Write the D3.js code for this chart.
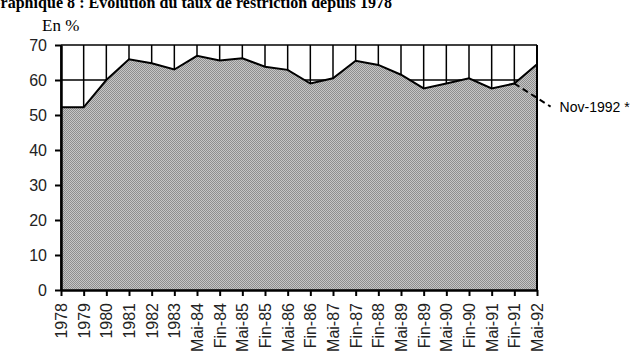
<!DOCTYPE html>
<html>
<head>
<meta charset="utf-8">
<script src="https://cdn.jsdelivr.net/npm/d3@7"></script>
<style>
  body { margin: 0; background: #fff; }
  svg { display: block; }
</style>
</head>
<body>
<svg id="chart" width="639" height="359"></svg>
<script>
const periodes = ["1978", "1979", "1980", "1981", "1982", "1983", "Mai-84", "Fin-84", "Mai-85", "Fin-85",
    "Mai-86", "Fin-86", "Mai-87", "Fin-87", "Fin-88", "Mai-89", "Fin-89", "Mai-90", "Fin-90", "Mai-91",
    "Fin-91", "Mai-92"]
const taux = [52.2, 52.2, 60, 65.9, 64.8, 63, 66.9, 65.6, 66.2, 63.8,
    62.9, 59, 60.5, 65.5, 64.3, 61.5, 57.6, 59, 60.5, 57.6,
    59, 64.5]
const yTicks = [0, 10, 20, 30, 40, 50, 60, 70]
// projection vers Nov-1992 (pointillés)
const projection = [{ pos: 20, val: 59 }, { pos: 21.6, val: 52.4 }]
const projLabel = "Nov-1992 *"

const svg = d3.select("#chart")

const x = d3.scalePoint().domain(periodes).range([61, 537])
const xPos = d3.scaleLinear().domain([0, periodes.length - 1]).range([61, 537])
const y = d3.scaleLinear().domain([0, 70]).range([290, 45])

// motif gris tramé
const defs = svg.append("defs")
const pat = defs.append("pattern")
    .attr("id", "trame")
    .attr("width", 2).attr("height", 2)
    .attr("patternUnits", "userSpaceOnUse")
pat.append("rect").attr("width", 2).attr("height", 2).attr("fill", "#c6c6c6")
pat.append("rect").attr("width", 1).attr("height", 1).attr("fill", "#8e8e8e")
pat.append("rect").attr("x", 1).attr("y", 1).attr("width", 1).attr("height", 1).attr("fill", "#8e8e8e")

// titre (coupé en haut, comme l'original)
svg.append("text")
    .attr("x", -12).attr("y", 8)
    .attr("font-family", "Liberation Serif, Times New Roman, serif")
    .attr("font-weight", "bold")
    .attr("font-size", 16)
    .attr("textLength", 404)
    .text("Graphique 8 : Evolution du taux de restriction  depuis 1978")

svg.append("text")
    .attr("x", 42).attr("y", 31)
    .attr("font-family", "Liberation Serif, Times New Roman, serif")
    .attr("font-size", 17)
    .text("En %")

// grille
svg.append("g")
    .selectAll("line")
    .data(yTicks)
    .join("line")
    .attr("x1", 61).attr("x2", 537)
    .attr("y1", d => y(d)).attr("y2", d => y(d))
    .attr("stroke", "#000").attr("stroke-width", 1.5)

svg.append("g")
    .selectAll("line")
    .data(periodes)
    .join("line")
    .attr("x1", d => x(d)).attr("x2", d => x(d))
    .attr("y1", y(70)).attr("y2", y(0))
    .attr("stroke", "#000").attr("stroke-width", 1.5)

const aire = d3.area()
    .x((d, i) => x(periodes[i]))
    .y0(y(0))
    .y1(d => y(d))

svg.append("path")
    .datum(taux)
    .attr("d", aire)
    .attr("fill", "url(#trame)")

const ligne = d3.line()
    .x((d, i) => x(periodes[i]))
    .y(d => y(d))

svg.append("path")
    .datum(taux)
    .attr("d", ligne)
    .attr("fill", "none")
    .attr("stroke", "#000").attr("stroke-width", 2)

// cadre droit
svg.append("line")
    .attr("x1", 537).attr("x2", 537)
    .attr("y1", y(70)).attr("y2", y(0))
    .attr("stroke", "#000").attr("stroke-width", 2)

// projection
svg.append("path")
    .datum(projection)
    .attr("d", d3.line().x(d => xPos(d.pos)).y(d => y(d.val)))
    .attr("fill", "none")
    .attr("stroke", "#000").attr("stroke-width", 2)
    .attr("stroke-dasharray", "6,4")

svg.append("text")
    .attr("x", xPos(projection[1].pos) + 9)
    .attr("y", y(projection[1].val) + 5)
    .attr("font-family", "Liberation Sans, Arial, sans-serif")
    .attr("font-size", 14)
    .text(projLabel)

// axes
const axeY = svg.append("g")
    .attr("transform", "translate(61,0)")
    .call(d3.axisLeft(y).tickValues(yTicks).tickSize(6).tickPadding(8).tickSizeOuter(0))
axeY.select(".domain").attr("stroke-width", 2.5)
axeY.selectAll(".tick line").attr("stroke-width", 2)
axeY.selectAll("text")
    .attr("font-family", "Liberation Sans, Arial, sans-serif")
    .attr("font-size", 16)
    .attr("fill", "#222")

const axeX = svg.append("g")
    .attr("transform", "translate(0,290)")
    .call(d3.axisBottom(x).tickSize(6).tickPadding(7).tickSizeOuter(0))
axeX.select(".domain").attr("stroke-width", 2.5)
axeX.selectAll(".tick line").attr("stroke-width", 2)
axeX.selectAll("text")
    .attr("font-family", "Liberation Sans, Arial, sans-serif")
    .attr("font-size", 16)
    .attr("fill", "#222")
    .attr("text-anchor", "end")
    .attr("transform", "rotate(-90)")
    .attr("x", -13).attr("y", 0)
    .attr("dy", "0.35em")
</script>
</body>
</html>
